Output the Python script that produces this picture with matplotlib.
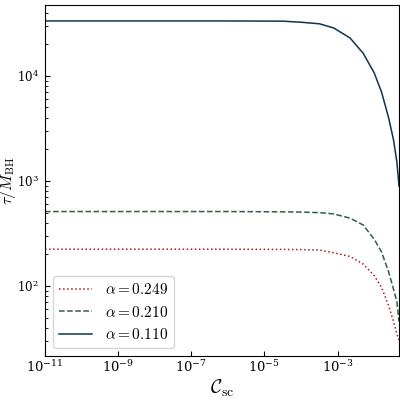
import numpy as np
import matplotlib

matplotlib.use("Agg")
import matplotlib.pyplot as plt

plt.rcParams["mathtext.fontset"] = "cm"
plt.rcParams["font.family"] = "serif"
plt.rcParams["font.serif"] = ["DejaVu Serif"]

# scale coupling C_sc (x) and lifetime tau/M_BH for three alpha values
c_sc = [1e-11, 1e-6, 3.2e-5, 1e-4, 3.2e-4, 7.9e-4, 2.2e-3, 5.0e-3,
        1.0e-2, 1.6e-2, 2.5e-2, 3.4e-2, 4.2e-2, 4.8e-2]
tau_a249 = [224, 224, 223, 222, 220, 207, 191, 162, 126, 97, 65, 46, 35, 30.6]
tau_a210 = [511, 511, 508, 505, 499, 485, 442, 381, 280, 211, 136, 93, 71, 46]
tau_a110 = [33270, 33270, 33110, 32360, 31260, 28510, 22910, 16440, 10720,
            7000, 3980, 2455, 1514, 891]

series = [
    (tau_a249, r"$\alpha = 0.249$", "#b01c1c", ":"),
    (tau_a210, r"$\alpha = 0.210$", "#2f6140", "--"),
    (tau_a110, r"$\alpha = 0.110$", "#0c3550", "-"),
]

fig = plt.figure(figsize=(4, 4), dpi=100)
ax = fig.add_axes([0.1125, 0.11, 0.885, 0.8775])

for vals, lab, col, ls in series:
    ax.plot(c_sc, vals, color=col, ls=ls, lw=1.1, label=lab)

ax.set_xscale("log")
ax.set_yscale("log")
ax.set_xlim(c_sc[0], c_sc[-1])
ax.tick_params(which="both", direction="in")
ax.tick_params(axis="x", labelsize=9.5, pad=2.5)
ax.tick_params(axis="y", labelsize=8.5, pad=4.5)
ax.set_xlabel(r"$\mathcal{C}_{\rm sc}$", fontsize=14, labelpad=2)
ax.set_ylabel(r"$\tau / M_{\rm BH}$", fontsize=11.5)
ax.yaxis.set_label_coords(-0.077, 0.5)
ax.legend(loc="lower left", fontsize=11, handlelength=2.2)

fig.savefig("out.png", dpi=100)
